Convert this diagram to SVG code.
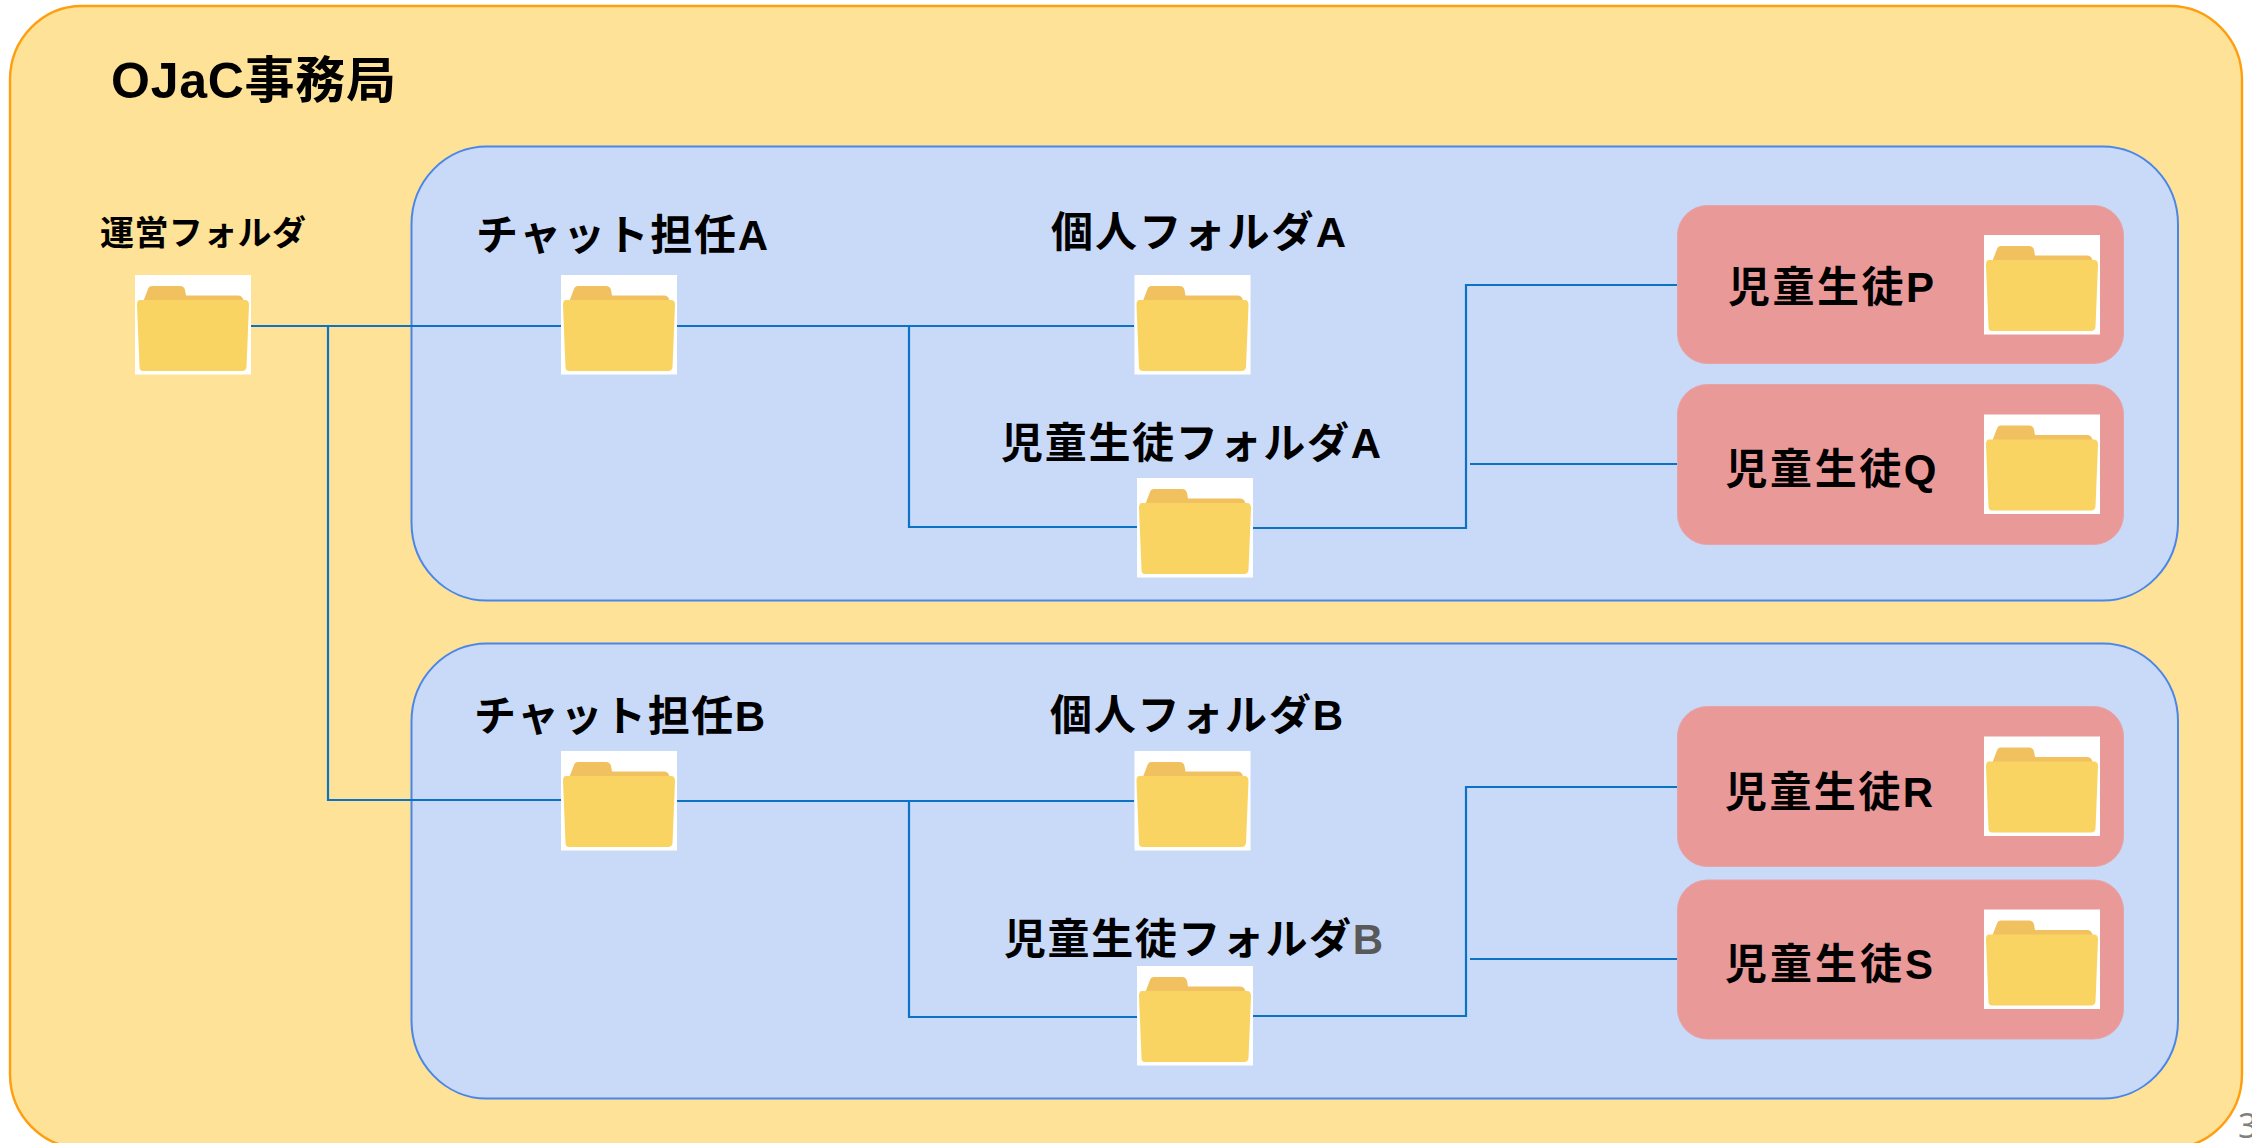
<svg xmlns="http://www.w3.org/2000/svg" width="2252" height="1143" viewBox="0 0 2252 1143">
<style>
text{font-family:"Liberation Sans","Noto Sans CJK JP",sans-serif;font-weight:700;fill:#000;font-size:42px}
.c{fill:none;stroke:#0B72C4;stroke-width:2.2}
.blue{fill:#C9DAF8;stroke:#4A86E8;stroke-width:2}
.pink{fill:#EA9999;stroke:#E6A3A8;stroke-width:1}
</style>
<defs>
<filter id="soft" x="-5%" y="-5%" width="110%" height="110%"><feGaussianBlur stdDeviation="0.7"/></filter>
<symbol id="folder" width="116" height="100" viewBox="0 0 116 100" overflow="visible">
<rect width="116" height="99.5" fill="#FFFFFF"/>
<g filter="url(#soft)">
<path d="M8 27 L13 14 Q14 11 17 11 L45 11 Q49 11 50 15 L51 20.500 L103 20.500 Q107 20.500 108 24 L110 28 Z" fill="#F1C160"/>
<path d="M5 25 L110 25 Q114 25 114 30 L111.500 92 Q111 96 107 96 L8 96 Q4.500 96 4.500 92 L2 30 Q2 25 5 25 Z" fill="#F9D462"/>
</g>
</symbol>
</defs>
<g id="containers">
<rect x="10" y="6" width="2232" height="1142" rx="72" ry="74" fill="#FDE298" stroke="#FF9E0F" stroke-width="2.400"/>
<rect class="blue" x="411.500" y="146.500" width="1766.500" height="454" rx="75" ry="78"/>
<rect class="blue" x="411.500" y="643.500" width="1766.500" height="455" rx="75" ry="78"/>
</g>
<g id="connectors">
<path class="c" d="M251 326H561M328 326V800H561M677 326H1134M909 326V527H1137M1253 528H1466V285H1678M1470 464H1678"/>
<path class="c" d="M677 801H1134M909 801V1017H1137M1253 1016H1466V787H1678M1470 959H1678"/>
</g>
<g id="title"><text x="111" y="98" style="font-size:50px" textLength="285">OJaC事務局</text></g>
<g id="node-root"><text x="100" y="245" style="font-size:34px" textLength="206">運営フォルダ</text><use href="#folder" x="135" y="275"/></g>
<g id="node-chat-a"><text x="476" y="250" textLength="292">チャット担任A</text><use href="#folder" x="561" y="275"/></g>
<g id="node-personal-a"><text x="1051" y="247" textLength="295">個人フォルダA</text><use href="#folder" x="1134.500" y="275"/></g>
<g id="node-students-a"><text x="1001" y="458" textLength="380">児童生徒フォルダA</text><use href="#folder" x="1137" y="478"/></g>
<g id="node-p"><rect class="pink" x="1677.500" y="205.500" width="446" height="158" rx="30" ry="30"/><text x="1728" y="302" textLength="206">児童生徒P</text><use href="#folder" x="1984" y="235"/></g>
<g id="node-q"><rect class="pink" x="1677.500" y="384.500" width="446" height="160" rx="30" ry="30"/><text x="1725.500" y="484" textLength="211">児童生徒Q</text><use href="#folder" x="1984" y="414.500"/></g>
<g id="node-chat-b"><text x="474" y="731" textLength="291">チャット担任B</text><use href="#folder" x="561" y="751"/></g>
<g id="node-personal-b"><text x="1050" y="730" textLength="293">個人フォルダB</text><use href="#folder" x="1134.500" y="751"/></g>
<g id="node-students-b"><text x="1004" y="954" textLength="379">児童生徒フォルダ<tspan style="fill:#595959">B</tspan></text><use href="#folder" x="1137" y="966"/></g>
<g id="node-r"><rect class="pink" x="1677.500" y="706.500" width="446" height="160" rx="30" ry="30"/><text x="1725" y="807" textLength="208">児童生徒R</text><use href="#folder" x="1984" y="736.500"/></g>
<g id="node-s"><rect class="pink" x="1677.500" y="880" width="446" height="159" rx="30" ry="30"/><text x="1725" y="979" textLength="208">児童生徒S</text><use href="#folder" x="1984" y="909.500"/></g>
<text x="2238" y="1138" style="font-family:'Open Sans',sans-serif;font-weight:400;font-size:34px;fill:#808080">3</text>
</svg>
